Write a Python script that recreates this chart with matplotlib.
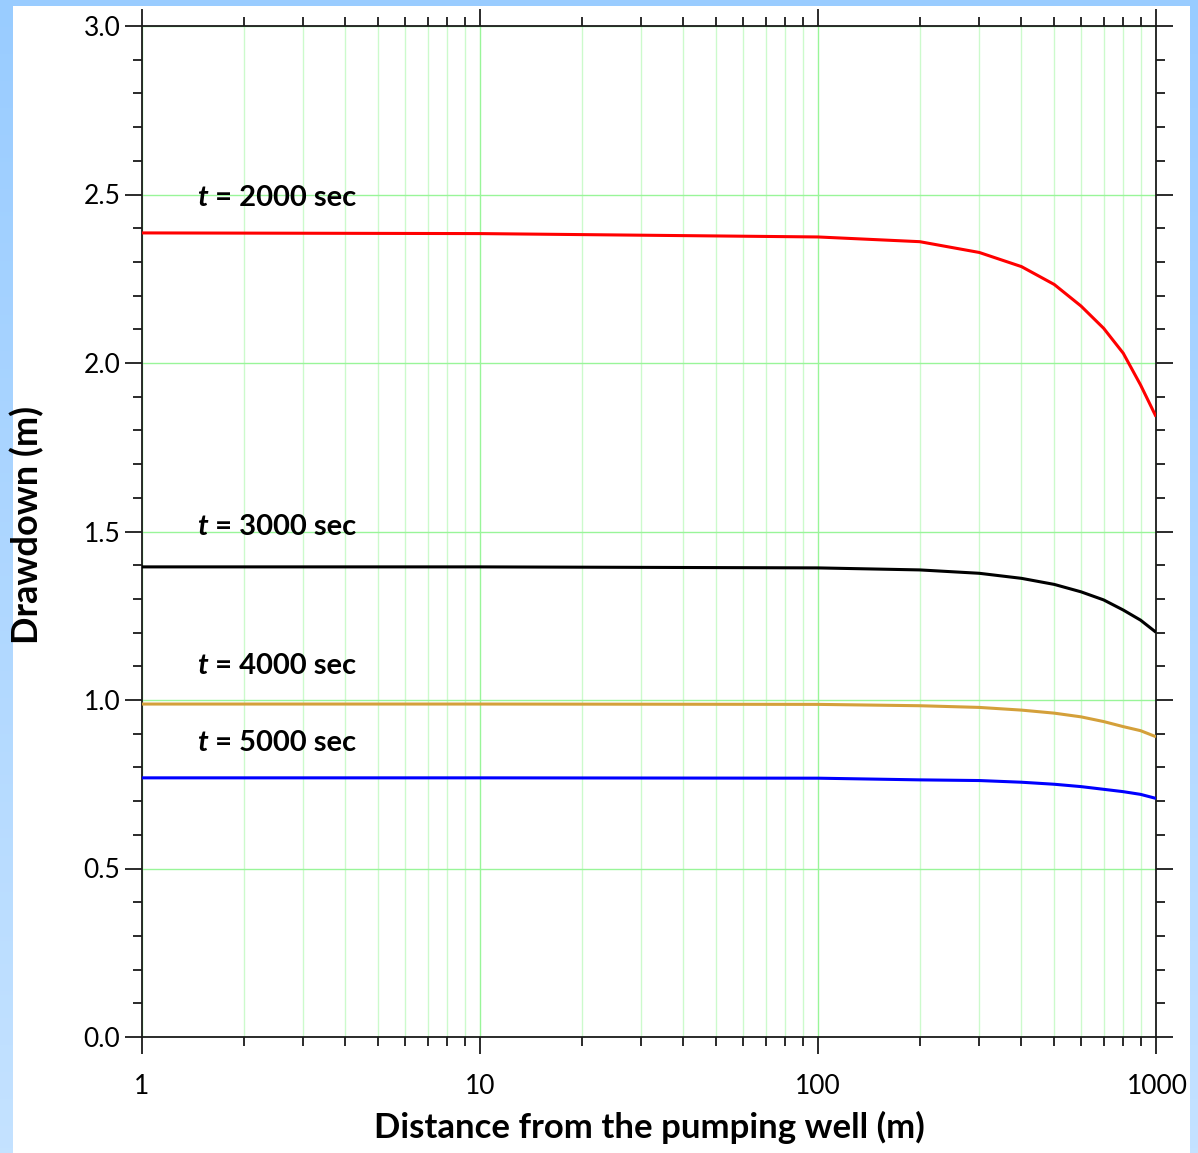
import numpy as np
import matplotlib
matplotlib.use("Agg")
import matplotlib.pyplot as plt
from matplotlib.ticker import MultipleLocator, LogLocator, NullFormatter, FixedLocator
from matplotlib.offsetbox import TextArea, HPacker, AnnotationBbox
from matplotlib.transforms import ScaledTranslation
from matplotlib.colors import LinearSegmentedColormap

plt.rcParams['font.family'] = ['Lato', 'DejaVu Sans']

# ---- data ----
distance = [1, 10, 100, 200, 300, 400, 500, 600, 700, 800, 900, 1000]
s_2000 = [2.386, 2.384, 2.374, 2.360, 2.328, 2.286, 2.233, 2.169, 2.103, 2.029, 1.935, 1.841]
s_3000 = [1.395, 1.395, 1.392, 1.386, 1.376, 1.361, 1.343, 1.321, 1.297, 1.267, 1.237, 1.201]
s_4000 = [0.988, 0.988, 0.987, 0.983, 0.978, 0.970, 0.961, 0.950, 0.936, 0.921, 0.909, 0.891]
s_5000 = [0.769, 0.769, 0.768, 0.763, 0.761, 0.756, 0.750, 0.743, 0.735, 0.728, 0.720, 0.708]
series = [s_2000, s_3000, s_4000, s_5000]
series_labels = ["2000", "3000", "4000", "5000"]
series_colors = ["#ff0000", "#000000", "#d4a03a", "#0000ff"]
label_y = [2.490, 1.512, 1.100, 0.873]
x_ticks = [1, 10, 100, 1000]
x_ticklabels = ["1", "10", "100", "1000"]

W, H = 1198, 1153
fig = plt.figure(figsize=(W / 100, H / 100), dpi=100)

# gradient background
cmap = LinearSegmentedColormap.from_list("bg", ["#99ccff", "#c4e2ff"])
bg = fig.add_axes([0, 0, 1, 1], zorder=-10)
bg.imshow(np.linspace(0, 1, 256).reshape(-1, 1), aspect='auto', cmap=cmap,
          extent=[0, 1, 0, 1], origin='upper')
bg.set_xlim(0, 1); bg.set_ylim(0, 1)
bg.axis('off')
bg.add_patch(plt.Rectangle((13 / W, 0), (1190 - 13) / W, (H - 6) / H,
                           facecolor='white', edgecolor='none'))

ax = fig.add_axes([142 / W, (H - 1037) / H, (1156 - 142) / W, (1037 - 26) / H])
ax.set_xscale('log')
ax.set_xlim(1, 1000)
ax.set_ylim(0, 3.0)

for vals, c in zip(series, series_colors):
    ax.plot(distance, vals, color=c, lw=2.2, solid_capstyle='butt', zorder=3)

# ticks & grid
ax.xaxis.set_major_locator(FixedLocator(x_ticks))
ax.xaxis.set_minor_locator(LogLocator(base=10, subs=np.arange(2, 10)))
ax.xaxis.set_minor_formatter(NullFormatter())
ax.set_xticklabels(x_ticklabels)
ax.yaxis.set_major_locator(MultipleLocator(0.5))
ax.yaxis.set_minor_locator(MultipleLocator(0.1))
ax.yaxis.set_major_formatter(plt.FuncFormatter(lambda v, p: f"{v:.1f}"))
ax.grid(True, which='major', axis='x', color='#99f599', lw=1.0, zorder=0)
ax.grid(True, which='minor', axis='x', color='#ccfacc', lw=1.0, zorder=0)
ax.grid(True, which='major', axis='y', color='#99f599', lw=1.0, zorder=0)
ax.set_axisbelow(True)

for sp in ax.spines.values():
    sp.set_color('#1a1a1a')
    sp.set_linewidth(1.3)

ax.tick_params(which='both', direction='out', top=True, right=True,
               color='#1a1a1a', width=1.3)
ax.tick_params(which='major', length=12.5, labelsize=19, pad=3)
ax.tick_params(which='minor', length=6.5)
ax.tick_params(axis='x', which='major', pad=14)

# last x tick label kept inside the white panel
lbls = ax.get_xticklabels()
lbls[-1].set_horizontalalignment('right')
lbls[-1].set_transform(lbls[-1].get_transform() + ScaledTranslation(32 / 100, 0, fig.dpi_scale_trans))

ax.set_xlabel("Distance from the pumping well (m)", fontsize=25, fontweight='bold')
ax.xaxis.label.set_verticalalignment('center')
ax.xaxis.set_label_coords(0.5, -(1127 - 1037) / (1037 - 26))
ax.set_ylabel("Drawdown (m)", fontsize=26, fontweight='bold')
ax.yaxis.label.set_verticalalignment('center')
ax.yaxis.set_label_coords(-(142 - 27) / (1156 - 142), (1037 - 525) / (1037 - 26))

for lab, yv in zip(series_labels, label_y):
    t1 = TextArea("t", textprops=dict(fontsize=21, fontweight='bold', fontstyle='italic'))
    t2 = TextArea(" = " + lab + " sec", textprops=dict(fontsize=21, fontweight='bold'))
    box = HPacker(children=[t1, t2], align='baseline', pad=0, sep=0)
    ab = AnnotationBbox(box, (1.454, yv), xycoords='data', box_alignment=(0, 0.5),
                        frameon=False, pad=0, zorder=5)
    ax.add_artist(ab)

# right blue band
ov = fig.add_axes([1190 / W, 0, (W - 1190) / W, 1], zorder=20)
ov.imshow(np.linspace(0, 1, 256).reshape(-1, 1), aspect='auto', cmap=cmap,
          extent=[0, 1, 0, 1], origin='upper')
ov.axis('off')

fig.savefig("out.png", dpi=100)
